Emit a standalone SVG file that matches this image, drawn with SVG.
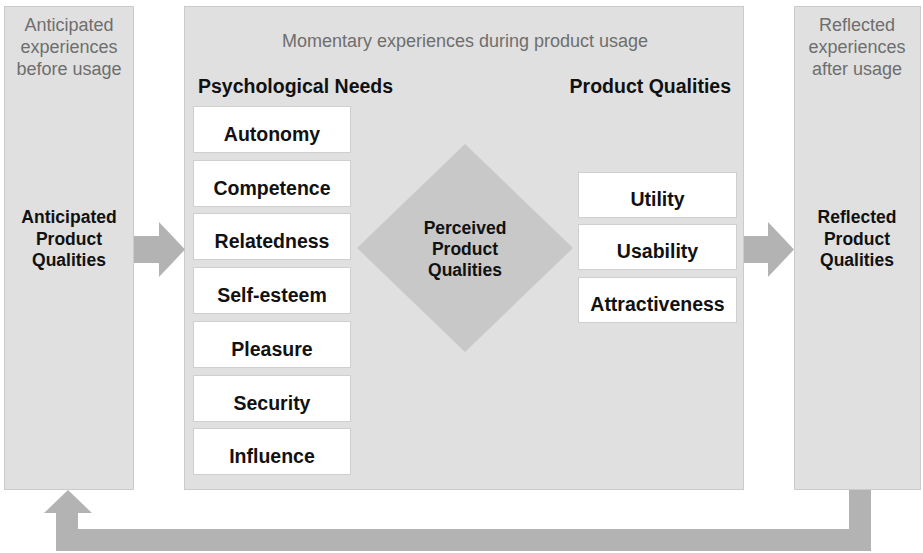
<svg xmlns="http://www.w3.org/2000/svg" width="923" height="553" viewBox="0 0 923 553">
  <style>
    .panel { fill: #e0e0e0; stroke: #cbcbcb; stroke-width: 1; }
    .box { fill: #ffffff; stroke: #cfcfcf; stroke-width: 1; }
    .arrow { fill: #b3b3b3; }
    .diamond { fill: #c8c8c8; }
    .note { font-family: "Liberation Sans", Arial, sans-serif; font-size: 18px; fill: #6e6e6e; text-anchor: middle; }
    .head { font-family: "Liberation Sans", Arial, sans-serif; font-size: 19.5px; font-weight: bold; fill: #111111; }
    .label { font-family: "Liberation Sans", Arial, sans-serif; font-size: 19.5px; font-weight: bold; fill: #111111; text-anchor: middle; }
    .stage { font-family: "Liberation Sans", Arial, sans-serif; font-size: 17.5px; font-weight: bold; fill: #111111; text-anchor: middle; }
  </style>

  <!-- Stage panels -->
  <g id="before-usage">
    <rect class="panel" x="4.5" y="6.5" width="129" height="483"/>
    <text class="note" x="69" y="31">Anticipated</text>
    <text class="note" x="69" y="53">experiences</text>
    <text class="note" x="69" y="75">before usage</text>
    <text class="stage" x="69" y="223">Anticipated</text>
    <text class="stage" x="69" y="244.5">Product</text>
    <text class="stage" x="69" y="266">Qualities</text>
  </g>

  <g id="during-usage">
    <rect class="panel" x="184.5" y="6.5" width="559" height="483"/>
    <text class="note" x="465" y="47">Momentary experiences during product usage</text>
    <text class="head" x="198" y="93">Psychological Needs</text>
    <text class="head" x="731" y="93" text-anchor="end">Product Qualities</text>
  </g>

  <g id="after-usage">
    <rect class="panel" x="794.5" y="6.5" width="126" height="483"/>
    <text class="note" x="857" y="31">Reflected</text>
    <text class="note" x="857" y="53">experiences</text>
    <text class="note" x="857" y="75">after usage</text>
    <text class="stage" x="857" y="223">Reflected</text>
    <text class="stage" x="857" y="244.5">Product</text>
    <text class="stage" x="857" y="266">Qualities</text>
  </g>

  <!-- Psychological needs -->
  <g id="need-autonomy">
    <rect class="box" x="193.5" y="106.5" width="157" height="46"/>
    <text class="label" x="272" y="141">Autonomy</text>
  </g>
  <g id="need-competence">
    <rect class="box" x="193.5" y="160.5" width="157" height="46"/>
    <text class="label" x="272" y="195">Competence</text>
  </g>
  <g id="need-relatedness">
    <rect class="box" x="193.5" y="213.5" width="157" height="46"/>
    <text class="label" x="272" y="248">Relatedness</text>
  </g>
  <g id="need-self-esteem">
    <rect class="box" x="193.5" y="267.5" width="157" height="46"/>
    <text class="label" x="272" y="302">Self-esteem</text>
  </g>
  <g id="need-pleasure">
    <rect class="box" x="193.5" y="321.5" width="157" height="46"/>
    <text class="label" x="272" y="356">Pleasure</text>
  </g>
  <g id="need-security">
    <rect class="box" x="193.5" y="375.5" width="157" height="46"/>
    <text class="label" x="272" y="410">Security</text>
  </g>
  <g id="need-influence">
    <rect class="box" x="193.5" y="428.5" width="157" height="46"/>
    <text class="label" x="272" y="463">Influence</text>
  </g>

  <!-- Perceived qualities -->
  <g id="perceived-qualities">
    <polygon class="diamond" points="465,144 573,248 465,352 357,248"/>
    <text class="stage" x="465" y="234">Perceived</text>
    <text class="stage" x="465" y="255">Product</text>
    <text class="stage" x="465" y="276">Qualities</text>
  </g>

  <!-- Product qualities -->
  <g id="quality-utility">
    <rect class="box" x="578.5" y="172.5" width="158" height="45"/>
    <text class="label" x="657.5" y="206">Utility</text>
  </g>
  <g id="quality-usability">
    <rect class="box" x="578.5" y="224.5" width="158" height="45"/>
    <text class="label" x="657.5" y="258">Usability</text>
  </g>
  <g id="quality-attractiveness">
    <rect class="box" x="578.5" y="277.5" width="158" height="45"/>
    <text class="label" x="657.5" y="311">Attractiveness</text>
  </g>

  <!-- Block arrows between stages -->
  <g id="connectors">
    <polygon class="arrow" points="134,236 159,236 159,222 185,249.5 159,277 159,263 134,263"/>
    <polygon class="arrow" points="744,236 768,236 768,222 794,249.5 768,277 768,263 744,263"/>
    <polygon class="arrow" points="849,490 871,490 871,551 56,551 56,513 44,513 68,490 92,513 78,513 78,529 849,529"/>
  </g>
</svg>
